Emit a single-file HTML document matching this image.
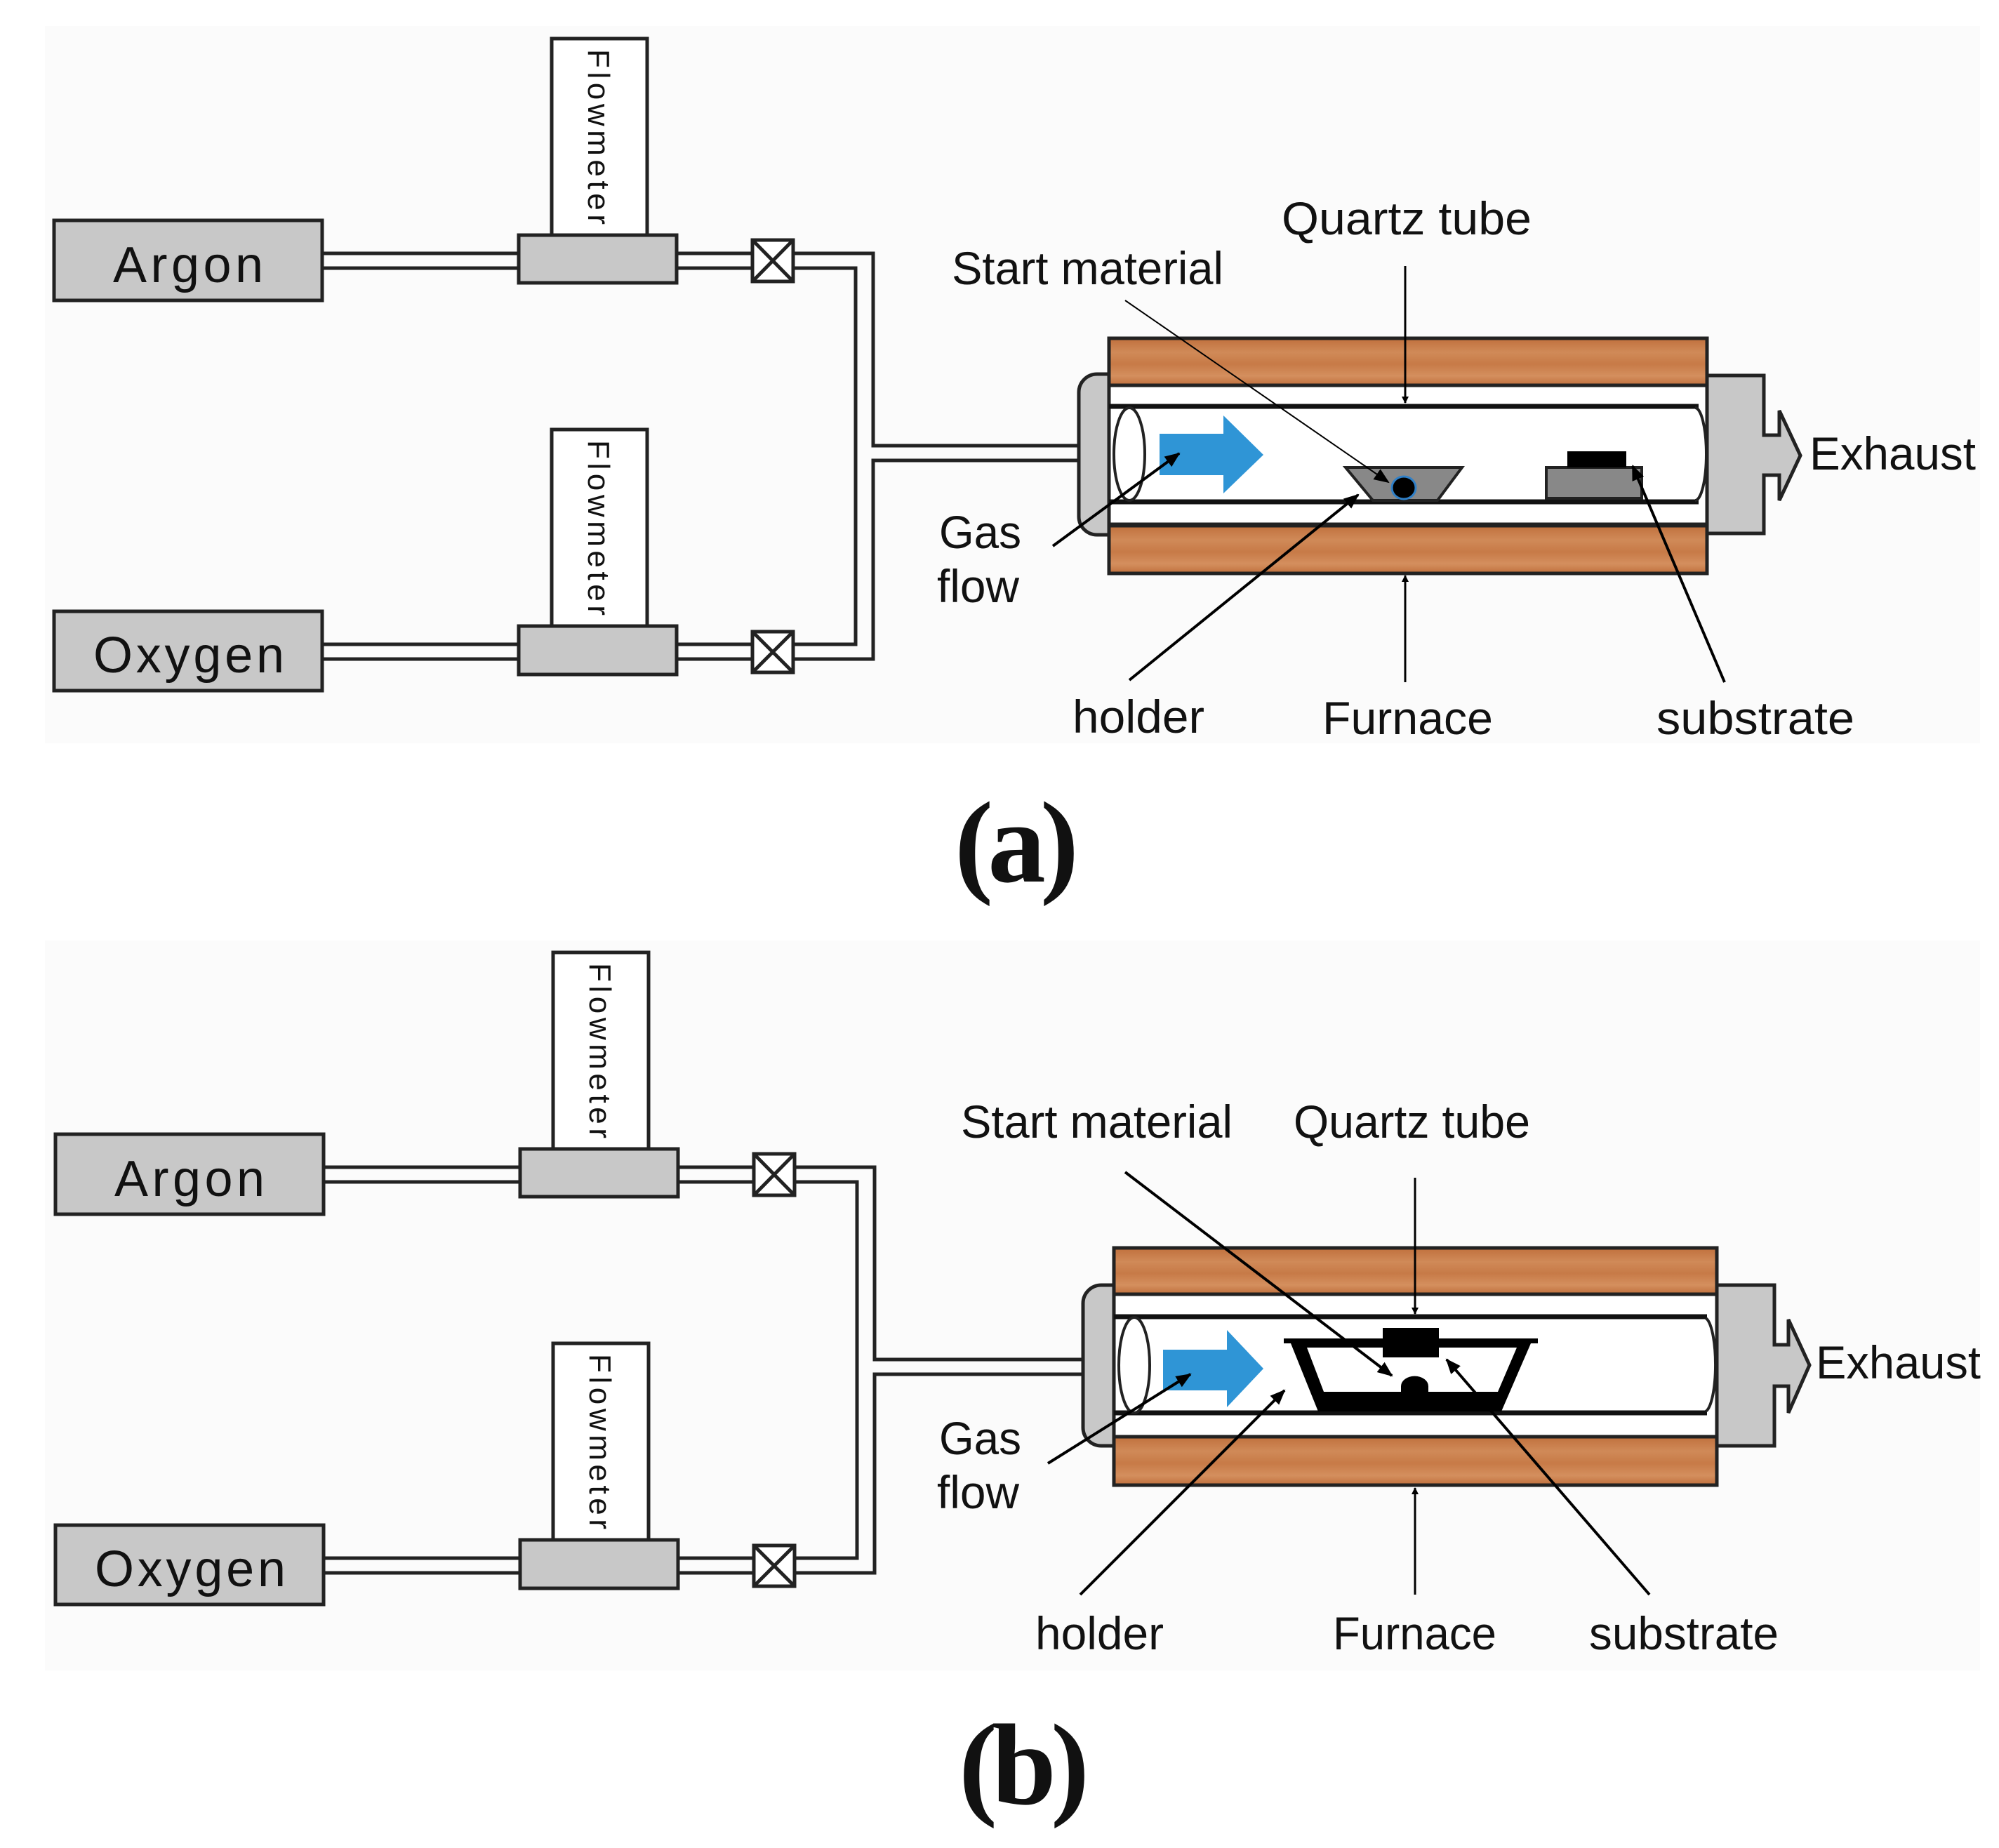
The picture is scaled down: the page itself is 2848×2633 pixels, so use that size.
<!DOCTYPE html>
<html><head><meta charset="utf-8"><style>
html,body{margin:0;padding:0;background:#fff;}
svg{display:block;}
text{font-family:"Liberation Sans",sans-serif;fill:#111;}
.lb{font-size:66px;}
.big{font-size:72px;}
.fm{font-size:44px;}
.cap{font-family:"Liberation Serif",serif;font-weight:bold;font-size:165px;}
</style></head><body>
<svg width="2848" height="2633" viewBox="0 0 2848 2633" xmlns="http://www.w3.org/2000/svg">
<defs>
<marker id="ah" markerWidth="10" markerHeight="10" refX="9" refY="5" orient="auto" markerUnits="userSpaceOnUse" viewBox="0 0 10 10">
<path d="M0,0 L10,5 L0,10 z" fill="#000"/></marker>
<marker id="ah2" markerWidth="22" markerHeight="22" refX="20" refY="11" orient="auto" markerUnits="userSpaceOnUse" viewBox="0 0 22 22">
<path d="M0,2 L22,11 L0,20 z" fill="#000"/></marker>
<linearGradient id="wood" x1="0" y1="0" x2="0" y2="1">
<stop offset="0" stop-color="#c0703d"/><stop offset="0.3" stop-color="#d08a58"/><stop offset="0.55" stop-color="#c77a47"/><stop offset="0.8" stop-color="#d48f5e"/><stop offset="1" stop-color="#c06f3c"/>
</linearGradient>
<g id="left">
<rect x="77" y="314" width="382" height="114" fill="#c8c8c8" stroke="#222" stroke-width="5"/>
<text class="big" x="268" y="402" text-anchor="middle" textLength="214">Argon</text>
<rect x="786" y="55" width="136" height="280" fill="#fff" stroke="#222" stroke-width="5"/>
<text class="fm" transform="translate(838,70) rotate(90)" textLength="250">Flowmeter</text>
<rect x="739" y="335" width="225" height="68" fill="#c8c8c8" stroke="#222" stroke-width="5"/>
<rect x="77" y="871" width="382" height="113" fill="#c8c8c8" stroke="#222" stroke-width="5"/>
<text class="big" x="269" y="958" text-anchor="middle" textLength="272">Oxygen</text>
<rect x="786" y="612" width="136" height="280" fill="#fff" stroke="#222" stroke-width="5"/>
<text class="fm" transform="translate(838,627) rotate(90)" textLength="250">Flowmeter</text>
<rect x="739" y="892" width="225" height="69" fill="#c8c8c8" stroke="#222" stroke-width="5"/>
<g stroke="#222" stroke-width="5" fill="none">
<path d="M459,361H739M459,382H739M964,361H1072M964,382H1072"/>
<path d="M459,918H739M459,939H739M964,918H1072M964,939H1072"/>
<path d="M1130,361H1244V635H1545"/>
<path d="M1130,382H1219V918H1130"/>
<path d="M1545,656H1244V939H1130"/>
<rect x="1072" y="342" width="58" height="59" fill="#fff"/>
<path d="M1072,342L1130,401M1130,342L1072,401"/>
<rect x="1072" y="900" width="58" height="58" fill="#fff"/>
<path d="M1072,900L1130,958M1130,900L1072,958"/>
</g>
</g>
</defs>

<rect x="64" y="37" width="2757" height="1022" fill="#fbfbfb"/>
<rect x="64" y="1340" width="2757" height="1040" fill="#fbfbfb"/>

<use href="#left"/>
<rect x="1537" y="533" width="70" height="229" rx="26" fill="#c8c8c8" stroke="#222" stroke-width="5"/>
<path d="M2432,535H2513V620H2535V585L2565,649L2535,713V677H2513V760H2432z" fill="#c8c8c8" stroke="#222" stroke-width="5"/>
<rect x="1580" y="549" width="852" height="198" fill="#fff" stroke="#222" stroke-width="5"/>
<path d="M1580,579H2420M1580,715H2420" stroke="#111" stroke-width="7"/>
<ellipse cx="1609" cy="647" rx="22" ry="66" fill="#fff" stroke="#222" stroke-width="4"/>
<path d="M2415,581 A16,66 0 0 1 2415,713" fill="none" stroke="#222" stroke-width="4"/>
<rect x="1580" y="482" width="852" height="67" fill="url(#wood)" stroke="#222" stroke-width="5"/>
<rect x="1580" y="749" width="852" height="68" fill="url(#wood)" stroke="#222" stroke-width="5"/>
<path d="M1652,618H1743V592L1800,648L1743,703V677H1652z" fill="#2f95d6"/>
<path d="M1917,666H2083L2048,713H1956z" fill="#888" stroke="#222" stroke-width="4"/>
<ellipse cx="2000" cy="695" rx="17" ry="16" fill="#000" stroke="#2f80c8" stroke-width="3"/>
<rect x="2203" y="666" width="136" height="44" fill="#888" stroke="#222" stroke-width="4"/>
<rect x="2233" y="643" width="84" height="23" fill="#000"/>
<g stroke="#000" fill="none">
<path d="M2002,379V574" stroke-width="3" marker-end="url(#ah)"/>
<path d="M2002,972V820" stroke-width="3" marker-end="url(#ah)"/>
<path d="M1603,428L1978,687" stroke-width="2" marker-end="url(#ah2)"/>
<path d="M1609,969L1935,705" stroke-width="4" marker-end="url(#ah2)"/>
<path d="M2457,972L2326,664" stroke-width="4" marker-end="url(#ah2)"/>
<path d="M1500,778L1680,646" stroke-width="4" marker-end="url(#ah2)"/>
</g>
<g lengthAdjust="spacingAndGlyphs">
<text class="lb" x="1356" y="405" textLength="387" lengthAdjust="spacingAndGlyphs">Start material</text>
<text class="lb" x="1826" y="334" textLength="356" lengthAdjust="spacingAndGlyphs">Quartz tube</text>
<text class="lb" x="2578" y="669" textLength="237" lengthAdjust="spacingAndGlyphs">Exhaust</text>
<text class="lb" x="1338" y="781" textLength="117" lengthAdjust="spacingAndGlyphs">Gas</text>
<text class="lb" x="1335" y="858" textLength="117" lengthAdjust="spacingAndGlyphs">flow</text>
<text class="lb" x="1528" y="1044" textLength="188" lengthAdjust="spacingAndGlyphs">holder</text>
<text class="lb" x="1884" y="1046" textLength="243" lengthAdjust="spacingAndGlyphs">Furnace</text>
<text class="lb" x="2360" y="1046" textLength="282" lengthAdjust="spacingAndGlyphs">substrate</text>
</g>
<text class="cap" x="1360" y="1256" textLength="177">(a)</text>

<use href="#left" transform="translate(2,1302)"/>
<rect x="1543" y="1831" width="70" height="229" rx="26" fill="#c8c8c8" stroke="#222" stroke-width="5"/>
<path d="M2446,1831H2528V1916H2548V1880L2578,1945L2548,2013V1975H2528V2060H2446z" fill="#c8c8c8" stroke="#222" stroke-width="5"/>
<rect x="1587" y="1844" width="859" height="203" fill="#fff" stroke="#222" stroke-width="5"/>
<path d="M1587,1876H2432M1587,2013H2432" stroke="#111" stroke-width="7"/>
<ellipse cx="1616" cy="1945" rx="22" ry="68" fill="#fff" stroke="#222" stroke-width="4"/>
<path d="M2430,1878 A16,67 0 0 1 2430,2011" fill="none" stroke="#222" stroke-width="4"/>
<rect x="1587" y="1778" width="859" height="66" fill="url(#wood)" stroke="#222" stroke-width="5"/>
<rect x="1587" y="2047" width="859" height="69" fill="url(#wood)" stroke="#222" stroke-width="5"/>
<path d="M1657,1923H1748V1895L1800,1950L1748,2005V1981H1657z" fill="#2f95d6"/>
<rect x="1829" y="1907" width="362" height="7" fill="#000"/>
<path d="M1839,1914H2181L2139,2011H1878z" fill="#000"/>
<path d="M1862,1920H2161L2134,1983H1886z" fill="#fff"/>
<path d="M1996,1983V1975A19,14 0 0 1 2035,1975V1983z" fill="#000"/>
<rect x="1970" y="1892" width="80" height="42" fill="#000"/>
<g stroke="#000" fill="none">
<path d="M2016,1678V1872" stroke-width="3" marker-end="url(#ah)"/>
<path d="M2016,2272V2120" stroke-width="3" marker-end="url(#ah)"/>
<path d="M1603,1670L1983,1960" stroke-width="4" marker-end="url(#ah2)"/>
<path d="M1539,2272L1830,1981" stroke-width="4" marker-end="url(#ah2)"/>
<path d="M2350,2272L2061,1937" stroke-width="4" marker-end="url(#ah2)"/>
<path d="M1493,2085L1696,1958" stroke-width="4" marker-end="url(#ah2)"/>
</g>
<text class="lb" x="1369" y="1621" textLength="387" lengthAdjust="spacingAndGlyphs">Start material</text>
<text class="lb" x="1843" y="1621" textLength="337" lengthAdjust="spacingAndGlyphs">Quartz tube</text>
<text class="lb" x="2587" y="1964" textLength="235" lengthAdjust="spacingAndGlyphs">Exhaust</text>
<text class="lb" x="1338" y="2072" textLength="117" lengthAdjust="spacingAndGlyphs">Gas</text>
<text class="lb" x="1335" y="2149" textLength="117" lengthAdjust="spacingAndGlyphs">flow</text>
<text class="lb" x="1475" y="2350" textLength="183" lengthAdjust="spacingAndGlyphs">holder</text>
<text class="lb" x="1899" y="2350" textLength="233" lengthAdjust="spacingAndGlyphs">Furnace</text>
<text class="lb" x="2264" y="2350" textLength="270" lengthAdjust="spacingAndGlyphs">substrate</text>
<text class="cap" x="1366" y="2570" textLength="186">(b)</text>
</svg>
</body></html>
